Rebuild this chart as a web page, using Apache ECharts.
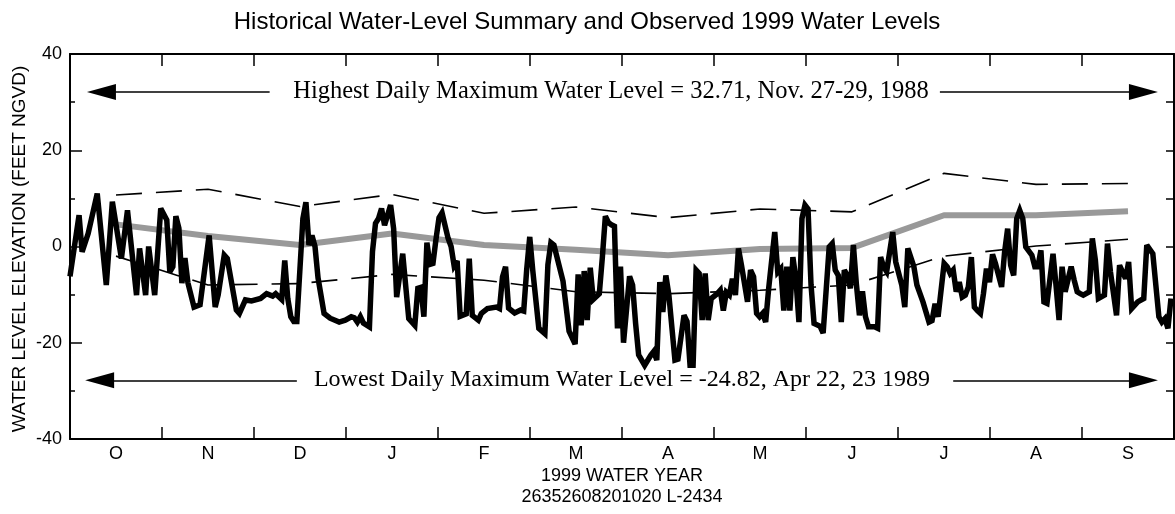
<!DOCTYPE html>
<html>
<head>
<meta charset="utf-8">
<title>Historical Water-Level Summary and Observed 1999 Water Levels</title>
<script src="https://cdn.jsdelivr.net/npm/echarts@6/dist/echarts.min.js"></script>
<style>
  html, body { margin: 0; padding: 0; background: #fff; }
  #main { width: 1175px; height: 514px; }
</style>
</head>
<body>
<div id="main"></div>
<script>
// month letters of the 1999 water year (Oct 1998 - Sep 1999)
const months = ['O', 'N', 'D', 'J', 'F', 'M', 'A', 'M', 'J', 'J', 'A', 'S']

// historical summary, one value per month (mid-month)
const monthlyMean = [4.6, 2.2, 0.3, 2.7, 0.3, -0.7, -1.8, -0.5, -0.3, 6.5, 6.5, 7.3]
const monthlyHigh = [10.7, 11.9, 8.3, 10.8, 6.9, 8.2, 6.0, 7.8, 7.2, 15.2, 12.9, 13.1]
const monthlyLow = [-2.0, -8.0, -7.7, -5.8, -7.0, -9.4, -9.8, -9.1, -8.0, -2.0, 0.1, 1.5]

// observed 1999 daily levels, [day of water year, feet]
const obsOctDec = [
  [0, -6.2], [3, 6.5], [4, -1.1], [6, 2.7], [9, 11.0], [12, -8.0], [14, 9.3], [17, -2.5],
  [19, 7.5], [22, -10.1], [23, -0.4], [25, -10.1], [26, 0], [28, -10.1], [30, 7.9], [32, 5.5],
  [33, -5.3], [34, -4.2], [35, 6.3], [36, 3.8], [37, -7.6], [38, -2.4], [39, -7.6], [41, -12.6],
  [43, -12.1], [46, 2.3], [48, -12.6], [49, -10.0], [51, -1.8], [52, -2.5], [55, -13.2], [56, -13.9],
  [58, -11.1], [60, -11.3], [63, -10.8], [65, -9.8], [67, -10.3], [68, -9.8], [70, -11.0], [71, -2.9],
  [72, -10.8], [73, -14.6], [74, -15.6], [75, -15.6], [77, 5.8], [78, 9.2], [79, 0.3], [80, 2.3],
  [81, 0.0], [82, -6.5], [84, -13.9], [86, -14.9], [89, -15.7], [91, -15.3]
]
const obsJanMar = [
  [93, -14.6], [94, -14.8], [95, -15.7], [96, -14.6], [97, -15.9], [99, -16.7], [100, -1.1], [101, 4.8],
  [102, 5.8], [103, 7.9], [104, 4.4], [106, 8.6], [107, 3.7], [108, -10.5], [110, -1.5], [112, -15.0],
  [114, -16.4], [115, -8.7], [116, -8.5], [117, -14.6], [118, 0.8], [119, -3.7], [120, -3.5], [121, 1.5],
  [122, 6.0], [123, 7.0], [125, 1.7], [126, 0.0], [127, -4.0], [128, -3.0], [129, -14.5], [131, -14.0],
  [132, -2.5], [133, -14.3], [135, -15.3], [136, -13.9], [138, -12.9], [141, -12.6], [142, -12.9], [143, -6.3],
  [144, -4.2], [145, -12.8], [147, -13.8], [149, -13.2], [150, -13.4], [151, -4.7], [152, 2.0], [153, -5.0],
  [155, -17.0], [157, -18.1], [158, -3.8], [159, 0.8], [160, 0.3], [163, -7.2], [165, -17.6], [167, -20.3],
  [168, -5.8], [169, -16.4], [170, -5.1], [171, -15.3], [172, -4.4], [173, -11.0], [175, -9.8], [176, -2.3],
  [177, 6.3], [178, 5.0], [179, 4.5], [180, 4.2], [181, -17.0]
]
const obsAprJun = [
  [182, -4.2], [183, -20.0], [185, -6.2], [186, -8.0], [187, -16.0], [188, -22.5], [190, -24.7], [192, -22.6],
  [193, -21.8], [194, -23.6], [195, -7.4], [196, -13.6], [197, -6.0], [198, -10.1], [200, -23.6], [201, -23.4],
  [203, -14.3], [204, -15.6], [205, -24.7], [206, -24.7], [207, -4.9], [208, -5.6], [209, -15.3], [210, -5.6],
  [211, -15.3], [212, -10.8], [214, -9.8], [215, -9.1], [216, -13.3], [217, -9.5], [218, -10.1], [219, -6.7],
  [220, -10.1], [221, -0.4], [222, -3.9], [224, -11.5], [225, -4.9], [226, -6.3], [227, -13.9], [228, -14.6],
  [229, -13.9], [230, -15.7], [231, -8.7], [233, 3.0], [234, -5.3], [235, -4.6], [236, -13.3], [237, -4.2],
  [238, -13.3], [239, -2.2], [240, -6.7], [241, -15.7], [242, 5.8], [243, 8.6], [244, 7.8], [245, -8.0],
  [246, -16.0], [248, -16.6], [249, -18.0], [251, -0.1], [252, 0.6], [253, -4.9], [254, -6.0], [255, -15.7],
  [256, -4.9], [257, -6.0], [258, -8.7], [259, 0.3], [260, -7.9], [261, -14.3], [262, -9.3], [263, -14.6],
  [264, -16.7], [266, -16.7], [267, -17.0], [268, -2.2], [269, -4.2], [270, -5.2], [272, 3.0]
]
const obsJulSep = [
  [273, -3.2], [275, -8.0], [276, -12.6], [277, -0.4], [279, -4.2], [280, -8.0], [282, -11.5], [284, -15.7],
  [285, -15.4], [286, -11.9], [287, -14.6], [289, -3.5], [290, -4.2], [291, -5.6], [292, -4.9], [293, -9.4],
  [294, -7.4], [295, -10.5], [296, -10.1], [297, -8.4], [298, -2.2], [299, -12.6], [300, -13.3], [301, -13.9],
  [302, -9.8], [303, -4.6], [304, -7.4], [305, -1.6], [306, -3.6], [308, -8.4], [309, -1.1], [310, 3.7],
  [311, -3.9], [312, -6.0], [313, 5.8], [314, 7.5], [315, 5.8], [316, -0.1], [318, -1.8], [319, -4.2],
  [320, -4.2], [321, -0.8], [322, -11.5], [323, -11.8], [325, -1.5], [326, -8.1], [327, -15.3], [328, -4.2],
  [329, -9.4], [331, -4.2], [332, -7.0], [333, -9.4], [334, -9.8], [335, -10.1], [337, -9.4], [338, 1.7],
  [339, -2.8], [340, -10.8], [342, -10.1], [343, 0.6], [344, -5.3], [346, -14.3], [347, -3.9], [349, -6.7],
  [350, -3.2], [351, -12.9], [353, -11.5], [355, -10.8], [356, 0.3], [358, -1.5], [360, -14.6], [361, -15.7],
  [362, -15.0], [363, -17.0], [364, -10.8]
]

// annotation arrows: level they are drawn at, and day spans of the line pieces
const arrowHighLevel = 32.1
const arrowLowLevel = -27.8
const arrowHighSpans = [[10.4, 66], [287.6, 354.9]]
const arrowLowSpans = [[9.8, 75], [292, 354.9]]

const highText = 'Highest Daily Maximum Water Level = 32.71, Nov. 27-29, 1988'
const lowText = 'Lowest Daily Maximum Water Level = -24.82, Apr 22, 23 1989'

const observed = [].concat(obsOctDec, obsJanMar, obsAprJun, obsJulSep)

const sansFont = '"Liberation Sans", Arial, sans-serif'
const serifFont = '"Liberation Serif", "Times New Roman", serif'

function arrowLines(spans, level) {
  // first piece carries its head on the left, the second one on the right
  return [
    [
      { coord: [spans[0][0], level], symbol: 'triangle' },
      { coord: [spans[0][1], level], symbol: 'none' }
    ],
    [
      { coord: [spans[1][0], level], symbol: 'none' },
      { coord: [spans[1][1], level], symbol: 'triangle' }
    ]
  ]
}

const chart = echarts.init(document.getElementById('main'))

const monthAxis = {
  type: 'category',
  data: months,
  boundaryGap: true,
  axisLine: { show: true, onZero: false, lineStyle: { color: '#000', width: 2 } },
  axisTick: { show: true, inside: true, length: 12, lineStyle: { color: '#000', width: 1.5 } },
  splitLine: { show: false }
}

const option = {
  animation: false,
  backgroundColor: '#fff',
  grid: { left: 70, right: 1, top: 54, bottom: 75, containLabel: false, outerBoundsMode: 'none' },
  xAxis: [
    {
      ...monthAxis,
      position: 'bottom',
      axisLabel: { color: '#000', fontSize: 18, fontFamily: sansFont, margin: 6 }
    },
    {
      ...monthAxis,
      position: 'top',
      axisLabel: { show: false }
    },
    {
      type: 'value',
      min: 0,
      max: 365,
      show: false,
      axisLine: { onZero: false }
    }
  ],
  yAxis: [
    {
      type: 'value',
      position: 'left',
      min: -40,
      max: 40,
      interval: 20,
      axisLine: { show: true, onZero: false, lineStyle: { color: '#000', width: 2 } },
      axisTick: { show: true, inside: true, length: 12, lineStyle: { color: '#000', width: 1.5 } },
      minorTick: { show: true, splitNumber: 2, length: 5, lineStyle: { color: '#000', width: 1.5 } },
      axisLabel: { color: '#000', fontSize: 18, fontFamily: sansFont, margin: 8 },
      splitLine: { show: false }
    },
    {
      type: 'value',
      position: 'right',
      min: -40,
      max: 40,
      interval: 10,
      axisLine: { show: true, onZero: false, lineStyle: { color: '#000', width: 2 } },
      axisTick: { show: true, inside: true, length: 8, lineStyle: { color: '#000', width: 1.5 } },
      axisLabel: { show: false },
      splitLine: { show: false }
    }
  ],
  graphic: [
    {
      type: 'text', x: 587, y: 22,
      style: { text: 'Historical Water-Level Summary and Observed 1999 Water Levels', font: '24px ' + sansFont, fill: '#000', align: 'center', verticalAlign: 'middle' }
    },
    {
      // y axis title, turned to read bottom-up
      type: 'text', x: 20, y: 249, rotation: Math.PI / 2,
      style: { text: 'WATER LEVEL ELEVATION (FEET NGVD)', font: '19px ' + sansFont, fill: '#000', align: 'center', verticalAlign: 'middle' }
    },
    {
      type: 'text', x: 611, y: 92,
      style: { text: highText, font: '24.5px ' + serifFont, fill: '#000', align: 'center', verticalAlign: 'middle' }
    },
    {
      type: 'text', x: 622, y: 380,
      style: { text: lowText, font: '24px ' + serifFont, fill: '#000', align: 'center', verticalAlign: 'middle' }
    },
    {
      type: 'text', x: 622, y: 476,
      style: { text: '1999 WATER YEAR', font: '18px ' + sansFont, fill: '#000', align: 'center', verticalAlign: 'middle' }
    },
    {
      type: 'text', x: 622, y: 497,
      style: { text: '26352608201020 L-2434', font: '18px ' + sansFont, fill: '#000', align: 'center', verticalAlign: 'middle' }
    }
  ],
  series: [
    {
      name: 'Mean',
      type: 'line',
      xAxisIndex: 0,
      yAxisIndex: 0,
      data: monthlyMean,
      symbol: 'none',
      z: 2,
      lineStyle: { color: '#999999', width: 6, cap: 'butt' }
    },
    {
      name: 'High',
      type: 'line',
      xAxisIndex: 0,
      yAxisIndex: 0,
      data: monthlyHigh,
      symbol: 'none',
      z: 3,
      lineStyle: { color: '#000', width: 1.6, type: [26, 14] }
    },
    {
      name: 'Low',
      type: 'line',
      xAxisIndex: 0,
      yAxisIndex: 0,
      data: monthlyLow,
      symbol: 'none',
      z: 3,
      lineStyle: { color: '#000', width: 1.6, type: [26, 14] }
    },
    {
      name: 'Observed 1999',
      type: 'line',
      xAxisIndex: 2,
      yAxisIndex: 0,
      data: observed,
      symbol: 'none',
      z: 4,
      lineStyle: { color: '#000', width: 5.5, join: 'miter', miterLimit: 3 },
      markLine: {
        silent: true,
        symbolSize: [16, 29],
        label: { show: false },
        lineStyle: { color: '#000', width: 1.6, type: 'solid' },
        itemStyle: { color: '#000' },
        emphasis: { disabled: true },
        data: arrowLines(arrowHighSpans, arrowHighLevel).concat(arrowLines(arrowLowSpans, arrowLowLevel))
      }
    }
  ]
}

chart.setOption(option)
</script>
</body>
</html>
